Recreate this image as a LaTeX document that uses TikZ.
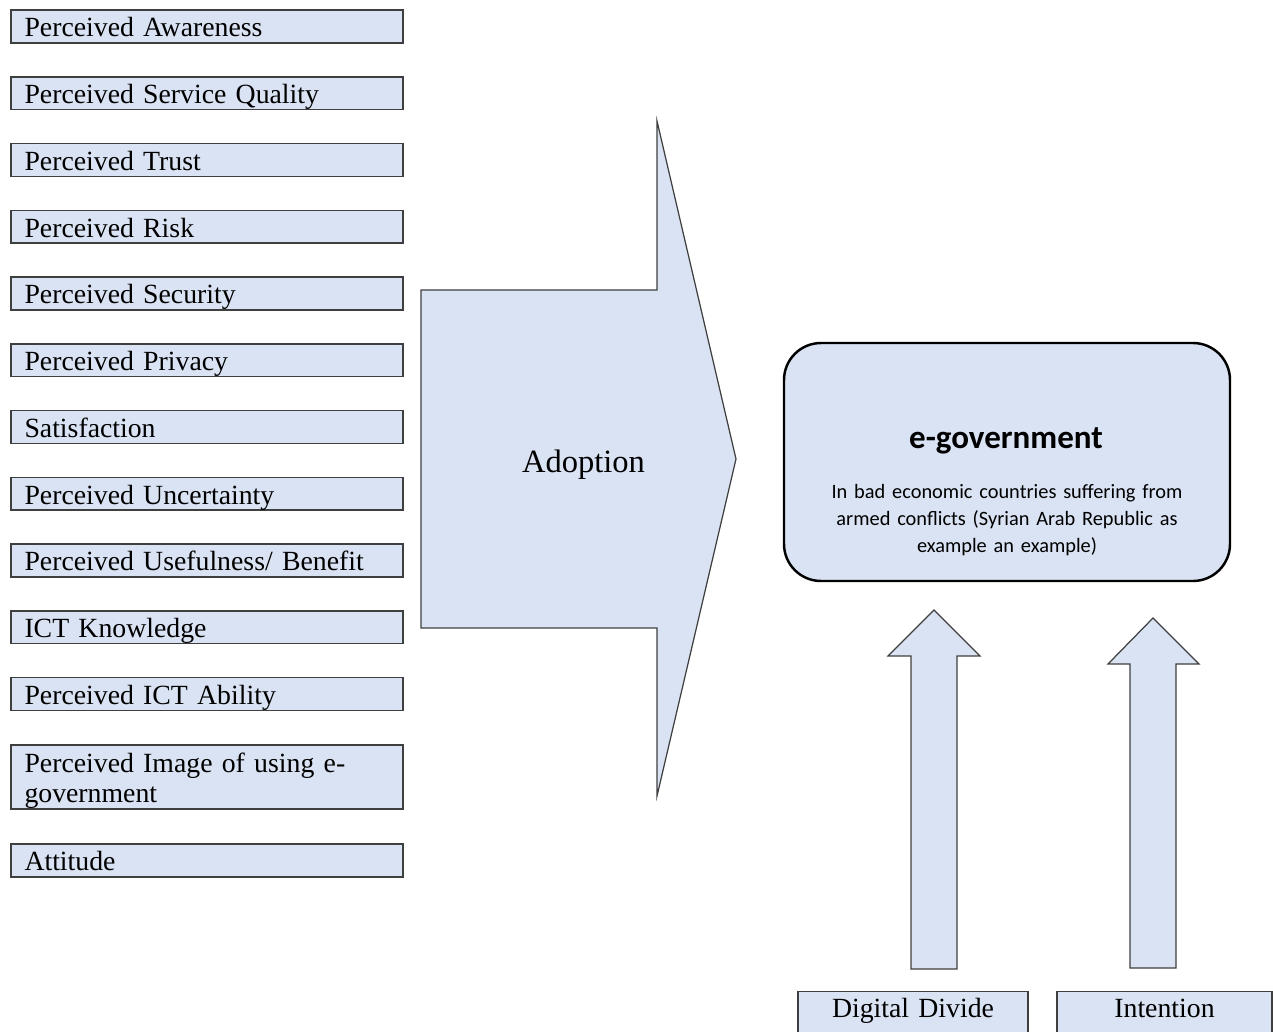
\documentclass[tikz,border=0pt]{standalone}
\usepackage{fontspec}
\setmainfont{Liberation Serif}
\newfontfamily\calibri{Carlito}

\definecolor{boxblue}{HTML}{DAE3F3}
\definecolor{edgegray}{HTML}{3F3F3F}

\begin{document}
\begin{tikzpicture}[
    factor/.style={draw=edgegray, line width=0.8pt, fill=boxblue, rectangle, text width=7.30cm, inner xsep=0.27cm, inner ysep=0pt, text height=15.3pt, text depth=3.4pt, align=left, font=\fontsize{15.8}{17.6}\selectfont},
    source/.style={factor, align=center, text height=14.8pt, text depth=14pt, anchor=north},
    blockarrow/.style={draw=edgegray, line width=0.7pt, fill=boxblue, line join=miter}
]
    \clip (0,0) rectangle (25.46,-20.64);

    % factors on the left
    \node[factor] (aware) at (4.14,-0.53) {Perceived Awareness};
    \node[factor] (quality) at (4.14,-1.865) {Perceived Service Quality};
    \node[factor] (trust) at (4.14,-3.20) {Perceived Trust};
    \node[factor] (risk) at (4.14,-4.535) {Perceived Risk};
    \node[factor] (security) at (4.14,-5.87) {Perceived Security};
    \node[factor] (privacy) at (4.14,-7.205) {Perceived Privacy};
    \node[factor] (satisf) at (4.14,-8.54) {Satisfaction};
    \node[factor] (uncert) at (4.14,-9.875) {Perceived Uncertainty};
    \node[factor] (useful) at (4.14,-11.21) {Perceived Usefulness/ Benefit};
    \node[factor] (ictknow) at (4.14,-12.545) {ICT Knowledge};
    \node[factor] (ictable) at (4.14,-13.88) {Perceived ICT Ability};
    \node[factor, text depth=21pt] (image) at (4.14,-15.54) {Perceived Image of using e-\\government};
    \node[factor] (attitude) at (4.14,-17.21) {Attitude};

    % adoption block arrow
    \filldraw[blockarrow] (8.42,-5.80) -- (13.14,-5.80) -- (13.14,-2.42) -- (14.72,-9.18) -- (13.14,-15.92) -- (13.14,-12.56) -- (8.42,-12.56) -- cycle;
    \node[font=\fontsize{18.5}{22}\selectfont, anchor=base] (adoption) at (11.67,-9.44) {Adoption};

    % e-government
    \node[draw=black, line width=1.4pt, fill=boxblue, rounded corners=0.74cm, minimum width=8.92cm, minimum height=4.76cm] (egov) at (20.14,-9.24) {};
    \node[font=\calibri\bfseries\fontsize{18.8}{22}\selectfont, anchor=base] (egovtitle) at (20.12,-8.96) {e-government};
    \node[font=\calibri\fontsize{11.6}{15.6}\selectfont, text width=8cm, align=center, anchor=base] (egovtext) at (20.14,-9.96)
        {In bad economic countries suffering from\\armed conflicts (Syrian Arab Republic as\\example an example)};

    % up arrows
    \filldraw[blockarrow] (18.22,-19.38) -- (18.22,-13.12) -- (17.76,-13.12) -- (18.68,-12.20) -- (19.60,-13.12) -- (19.14,-13.12) -- (19.14,-19.38) -- cycle;
    \filldraw[blockarrow] (22.60,-19.36) -- (22.60,-13.28) -- (22.16,-13.28) -- (23.06,-12.36) -- (23.98,-13.28) -- (23.52,-13.28) -- (23.52,-19.36) -- cycle;

    % bottom boxes
    \node[source, text width=4.06cm] (divide) at (18.26,-19.82) {Digital Divide};
    \node[source, text width=3.76cm] (intent) at (23.29,-19.82) {Intention};
\end{tikzpicture}
\end{document}
